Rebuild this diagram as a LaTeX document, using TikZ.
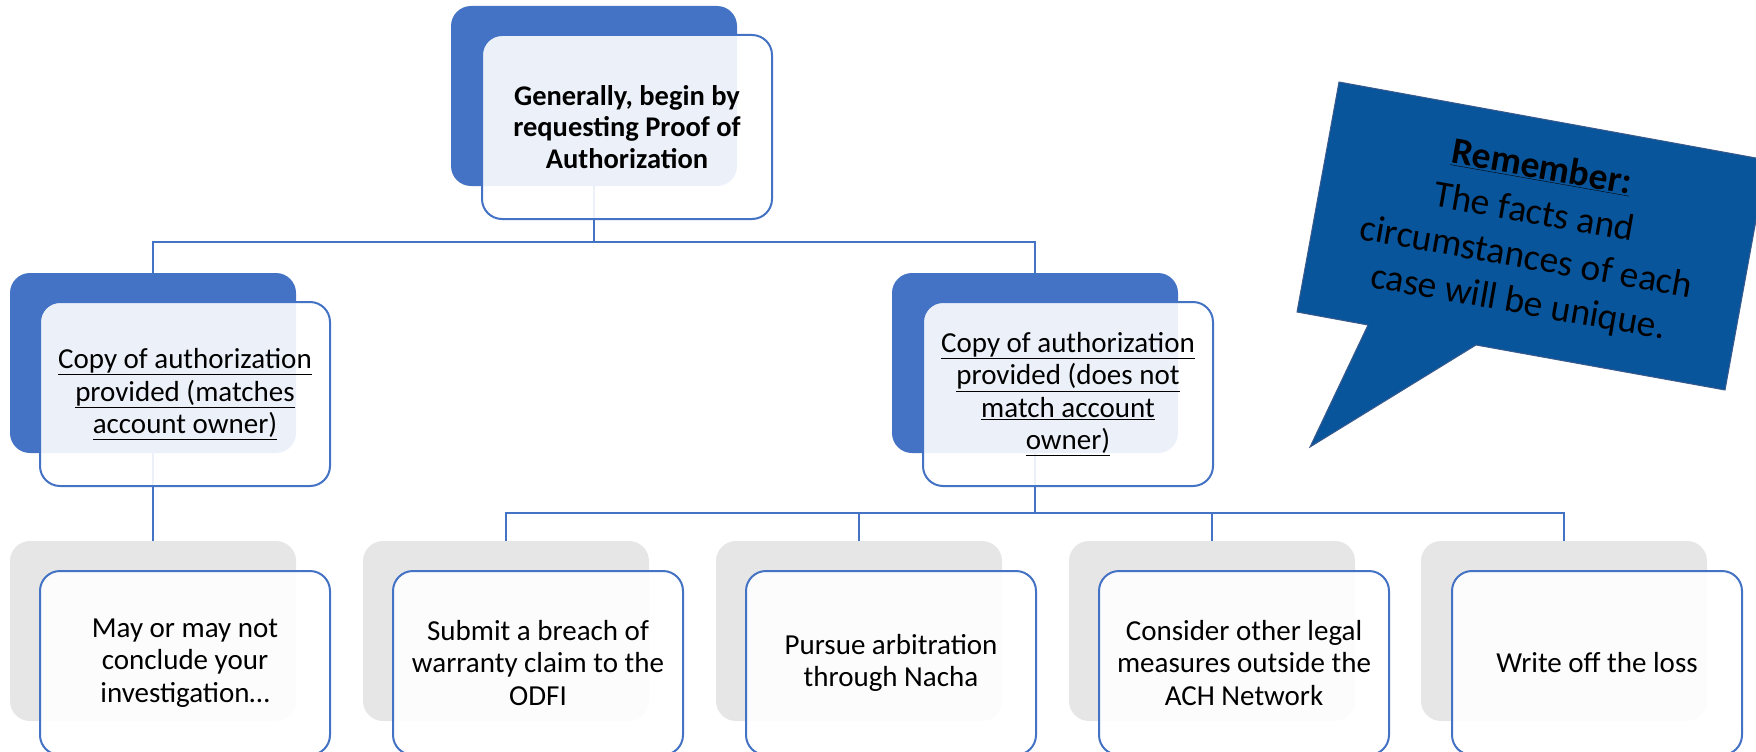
\documentclass[tikz,border=0pt]{standalone}
\usepackage{fontspec}
\setmainfont{Carlito}
\usetikzlibrary{backgrounds}
\definecolor{myblue}{HTML}{4472C4}
\definecolor{mygray}{HTML}{E7E6E6}
\definecolor{callfill}{HTML}{08559C}
\definecolor{callline}{HTML}{3A5A8C}
\begin{document}
\begin{tikzpicture}[x=1pt,y=-1pt,
  backrect/.style={rounded corners=20pt, minimum width=286pt, minimum height=180pt, inner sep=0pt, draw=none},
  frontbox/.style={draw=myblue, line width=2pt, fill=white, fill opacity=0.9, text opacity=1, rounded corners=20pt, minimum width=290pt, minimum height=184pt, inner sep=0pt, align=center, font=\fontsize{29}{32.5}\selectfont},
  conn/.style={draw=myblue, line width=2.5pt}]
\useasboundingbox (0,0) rectangle (1756,752);
% level 1
\node[backrect, fill=myblue] (tb) at (594,96) {};
\node[frontbox, font=\fontsize{28.5}{31.5}\selectfont\bfseries] (tf) at (627,127) {Generally, begin by\\ requesting Proof of\\ Authorization};
% level 2
\node[backrect, fill=myblue] (lb) at (153,363) {};
\node[frontbox] (lf) at (185,394) {\underline{Copy of authorization}\\ \underline{provided (matches}\\ \underline{account owner)}};
\node[backrect, fill=myblue] (rb) at (1035,363) {};
\node[frontbox] (rf) at (1068,394) {\underline{Copy of authorization}\\ \underline{provided (does not}\\ \underline{match account}\\ \underline{owner)}};
% level 3
\node[backrect, fill=mygray] (g1b) at (153,631) {};
\node[frontbox] (g1f) at (185,663) {May or may not\\ conclude your\\ investigation…};
\node[backrect, fill=mygray] (g2b) at (506,631) {};
\node[frontbox] (g2f) at (538,663) {Submit a breach of\\ warranty claim to the\\ ODFI};
\node[backrect, fill=mygray] (g3b) at (859,631) {};
\node[frontbox] (g3f) at (891,663) {Pursue arbitration\\ through Nacha};
\node[backrect, fill=mygray] (g4b) at (1212,631) {};
\node[frontbox] (g4f) at (1244,663) {Consider other legal\\ measures outside the\\ ACH Network};
\node[backrect, fill=mygray] (g5b) at (1564,631) {};
\node[frontbox] (g5f) at (1597,663) {Write off the loss};
% connectors
\coordinate (j1) at (594,242);
\coordinate (j2) at (1035,513);
\begin{scope}[on background layer]
\draw[conn] (tb.south) -- (j1);
\draw[conn] (j1) -| (lb.north);
\draw[conn] (j1) -| (rb.north);
\draw[conn] (lb.south) -- (g1b.north);
\draw[conn] (rb.south) -- (j2);
\foreach \n in {g2b,g3b,g4b,g5b} \draw[conn] (j2) -| (\n.north);
\end{scope}
% callout
\path[fill=callfill, draw=callline, line width=1pt] (1339,82) -- (1767,160) -- (1725,390) -- (1476,345) -- (1310,447) -- (1368,325) -- (1297,312) -- cycle;
\node[rotate=-10, align=center, font=\fontsize{37.5}{45.5}\selectfont, text=black] (note) at (1530,236) {\textbf{\underline{Remember:}}\\ The facts and\\ circumstances of each\\ case will be unique.};
\end{tikzpicture}
\end{document}
